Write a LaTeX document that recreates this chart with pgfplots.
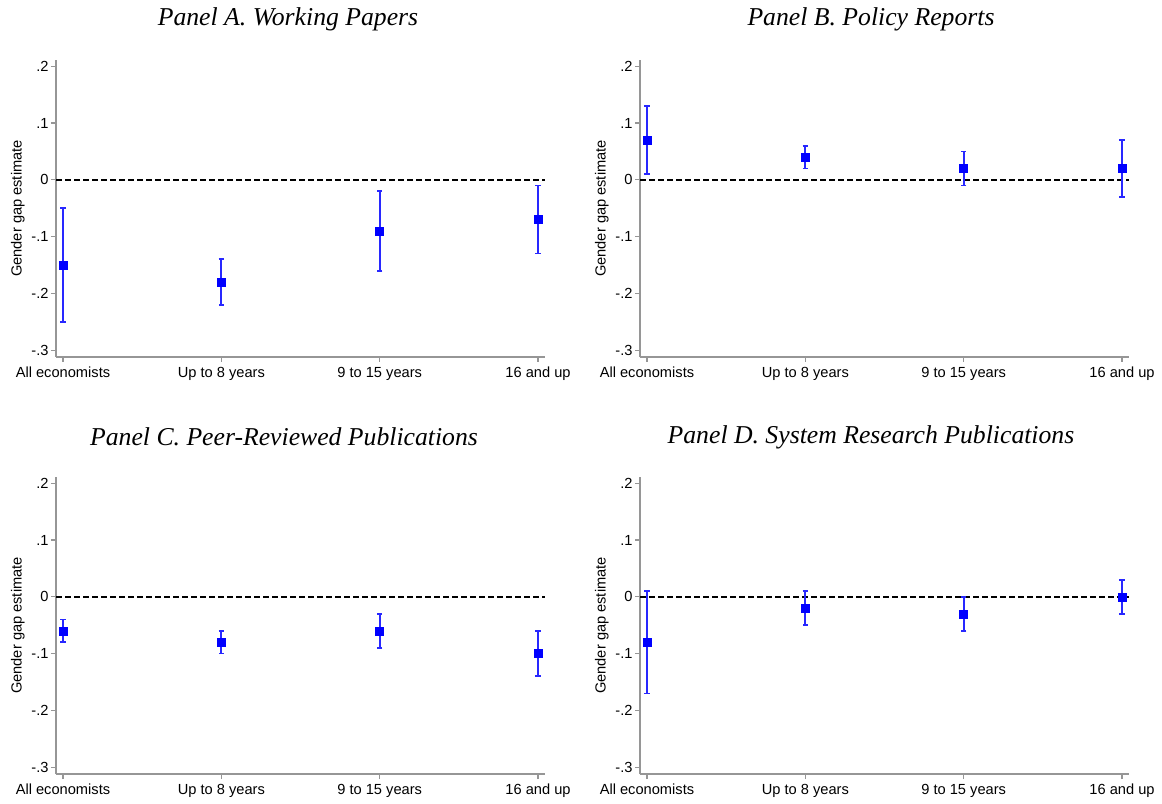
\documentclass[border=0pt]{standalone}
\usepackage{pgfplots}
\pgfplotsset{compat=1.18}
\usepackage{fontspec}
\setmainfont{Liberation Serif}
\newfontfamily\arialfont{Liberation Sans}

\definecolor{axisgray}{RGB}{150,150,150}
\definecolor{barblue}{RGB}{40,40,255}
\newcommand{\tickfont}{\arialfont\fontsize{14.7}{17}\selectfont}
\newcommand{\titlefont}{\fontsize{25.8}{30}\selectfont\itshape}

\pgfplotsset{
  panel/.style={
    scale only axis,
    width=489bp, height=297bp,
    anchor=south west,
    xmin=-0.044, xmax=3.044,
    ymin=-0.312, ymax=0.211,
    axis x line*=bottom, axis y line*=left,
    axis line style={axisgray, line width=1.3bp},
    every tick/.style={axisgray, line width=1.2bp},
    tick align=outside, major tick length=5bp,
    xtick={0,1,2,3},
    xticklabels={All economists, Up to 8 years, 9 to 15 years, 16 and up},
    ytick={-0.3,-0.2,-0.1,0,0.1,0.2},
    yticklabels={-.3,-.2,-.1,0,.1,.2},
    ticklabel style={font=\tickfont, black},
    xticklabel style={yshift=-1bp, text height=11bp, text depth=3bp},
    yticklabel style={xshift=1bp},
    ylabel={Gender gap estimate},
    ylabel style={font=\tickfont, at={(axis description cs:-0.078,0.5)}, anchor=center},
    clip=false,
  },
  est/.style={
    barblue, line width=1.7bp,
    only marks, mark=square*, mark size=4bp,
    mark options={fill=blue, draw=blue, line width=0.5bp},
    error bars/.cd, y dir=both, y explicit,
    error bar style={barblue, line width=1.7bp},
    error mark options={barblue, line width=1.7bp, mark size=2.6bp, rotate=90},
  },
  zero/.style={black, line width=1.8bp, dash pattern=on 6bp off 3bp, forget plot},
}

\begin{document}
\begin{tikzpicture}
\useasboundingbox (0,0) rectangle (1162bp,804bp);

\node[font=\titlefont] at (288bp,785bp) {Panel A. Working Papers};
\node[font=\titlefont] at (871bp,785bp) {Panel B. Policy Reports};
\node[font=\titlefont] at (284bp,367bp) {Panel C. Peer-Reviewed Publications};
\node[font=\titlefont] at (871bp,367bp) {Panel D. System Research Publications};

% Panel A
\begin{axis}[panel, at={(56bp,447bp)}]
\addplot[zero] coordinates {(-0.044,0) (3.044,0)};
\addplot[est] coordinates {
  (0,-0.15) +- (0,0.10)
  (1,-0.18) +- (0,0.04)
  (2,-0.09) +- (0,0.07)
  (3,-0.07) +- (0,0.06)
};
\end{axis}

% Panel B
\begin{axis}[panel, at={(640bp,447bp)}]
\addplot[zero] coordinates {(-0.044,0) (3.044,0)};
\addplot[est] coordinates {
  (0,0.07) +- (0,0.06)
  (1,0.04) +- (0,0.02)
  (2,0.02) +- (0,0.03)
  (3,0.02) +- (0,0.05)
};
\end{axis}

% Panel C
\begin{axis}[panel, at={(56bp,30bp)}]
\addplot[zero] coordinates {(-0.044,0) (3.044,0)};
\addplot[est] coordinates {
  (0,-0.06) +- (0,0.02)
  (1,-0.08) +- (0,0.02)
  (2,-0.06) +- (0,0.03)
  (3,-0.10) +- (0,0.04)
};
\end{axis}

% Panel D
\begin{axis}[panel, at={(640bp,30bp)}]
\addplot[zero] coordinates {(-0.044,0) (3.044,0)};
\addplot[est] coordinates {
  (0,-0.08) +- (0,0.09)
  (1,-0.02) +- (0,0.03)
  (2,-0.03) +- (0,0.03)
  (3,0.00) +- (0,0.03)
};
\end{axis}
\end{tikzpicture}
\end{document}
